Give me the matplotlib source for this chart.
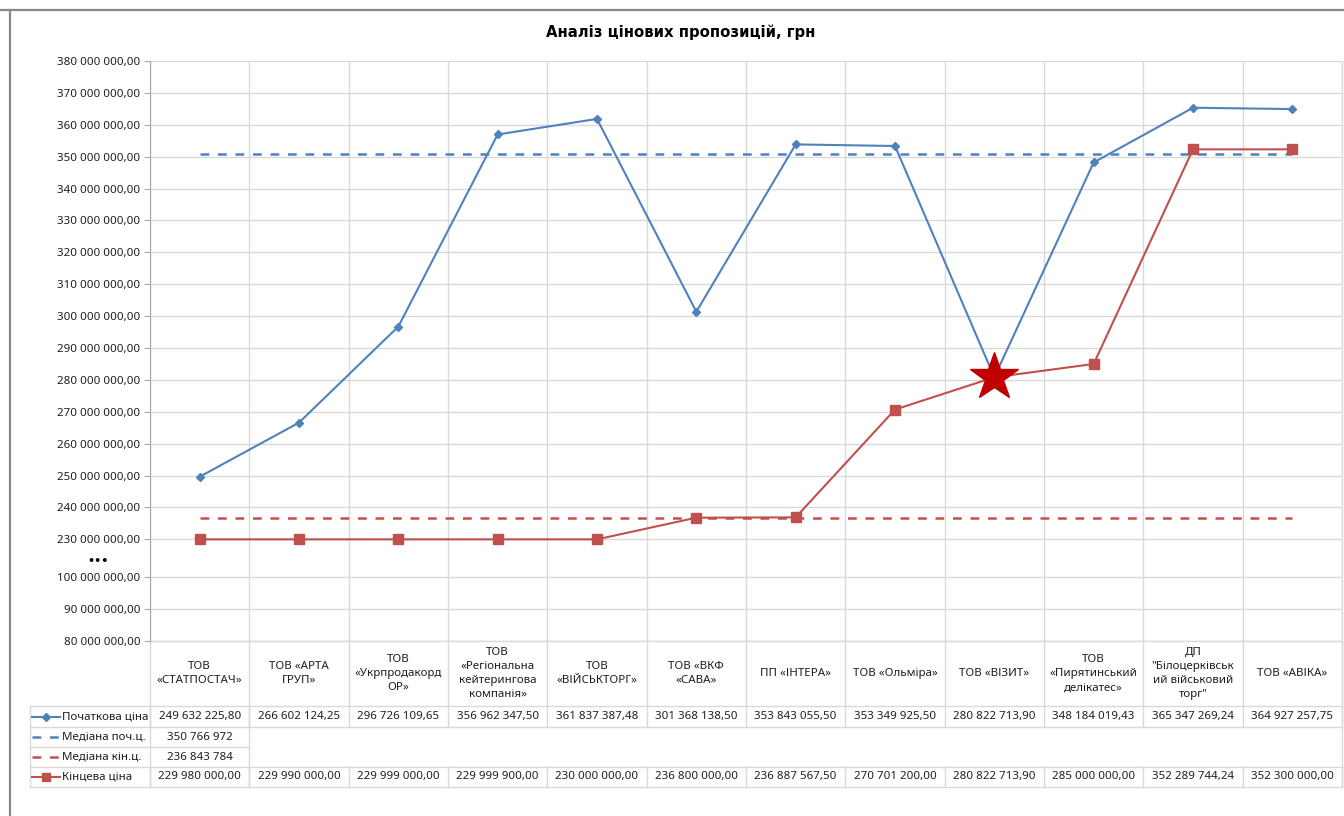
import numpy as np
import matplotlib
matplotlib.use("Agg")
import matplotlib.pyplot as plt
from matplotlib.ticker import FixedLocator, FuncFormatter, NullFormatter

plt.rcParams['font.family'] = ['Noto Sans', 'DejaVu Sans']

# --- дані ---
companies = [
    "ТОВ\n«СТАТПОСТАЧ»",
    "ТОВ «АРТА\nГРУП»",
    "ТОВ\n«Укрпродакорд\nОР»",
    "ТОВ\n«Регіональна\nкейтерингова\nкомпанія»",
    "ТОВ\n«ВІЙСЬКТОРГ»",
    "ТОВ «ВКФ\n«САВА»",
    "ПП «ІНТЕРА»",
    "ТОВ «Ольміра»",
    "ТОВ «ВІЗИТ»",
    "ТОВ\n«Пирятинський\nделікатес»",
    "ДП\n\"Білоцерківськ\nий військовий\nторг\"",
    "ТОВ «АВІКА»",
]
initial_price = [249632225.80, 266602124.25, 296726109.65, 356962347.50,
                 361837387.48, 301368138.50, 353843055.50, 353349925.50,
                 280822713.90, 348184019.43, 365347269.24, 364927257.75]
final_price = [229980000.00, 229990000.00, 229999000.00, 229999900.00,
               230000000.00, 236800000.00, 236887567.50, 270701200.00,
               280822713.90, 285000000.00, 352289744.24, 352300000.00]
median_initial = 350766972
median_final = 236843784
winner = 8  # ТОВ «ВІЗИТ»
y_ticks = [80_000_000, 90_000_000, 100_000_000] + \
    list(range(230_000_000, 380_000_001, 10_000_000))

BLUE = "#4F81BD"
RED = "#C0504D"
GRID = "#D9D9D9"
TXT = "#1f1f1f"
FS = 8.3

# розрив осі між 100 млн і 230 млн
GAP = 38 / 32


def fwd(v):
    v = np.asarray(v, float)
    lo = (v - 80e6) / 1e7
    hi = 2 + GAP + (v - 230e6) / 1e7
    mid = 2 + (v - 100e6) / 130e6 * GAP
    return np.where(v <= 100e6, lo, np.where(v >= 230e6, hi, mid))


def inv(u):
    u = np.asarray(u, float)
    lo = 80e6 + u * 1e7
    hi = 230e6 + (u - 2 - GAP) * 1e7
    mid = 100e6 + (u - 2) / GAP * 130e6
    return np.where(u <= 2, lo, np.where(u >= 2 + GAP, hi, mid))


def money(v):
    return f"{v:,.2f}".replace(",", " ").replace(".", ",")


def whole(v):
    return f"{v:,.0f}".replace(",", " ")


W, H = 1344, 816
plot_l, plot_r = 150, 1342
plot_t, plot_b = 61, 641
head_b = 706
rows = [706, 727, 747, 767, 787]
leg_l = 30
n = len(companies)
col_w = (plot_r - plot_l) / n

fig = plt.figure(figsize=(W / 100, H / 100), dpi=100)

# накладка в пікселях для рамки, заголовка і таблиці
ov = fig.add_axes([0, 0, 1, 1])
ov.set_xlim(0, W)
ov.set_ylim(H, 0)
ov.set_axis_off()

ax = fig.add_axes([plot_l / W, 1 - plot_b / H,
                   (plot_r - plot_l) / W, (plot_b - plot_t) / H])
ax.patch.set_alpha(0)
ax.set_yscale('function', functions=(fwd, inv))
ax.set_ylim(80e6, 380e6)
ax.set_xlim(-0.5, n - 0.5)
x = np.arange(n)

ax.plot(x, initial_price, color=BLUE, lw=1.5, marker='D', ms=4.5, zorder=3)
ax.plot([x[0], x[-1]], [median_initial] * 2, color=BLUE, lw=1.8,
        dashes=(3.5, 3.5), zorder=3)
ax.plot([x[0], x[-1]], [median_final] * 2, color=RED, lw=1.8,
        dashes=(3.5, 3.5), zorder=3)
ax.plot(x, final_price, color=RED, lw=1.5, marker='s', ms=6.5, zorder=4)
ax.plot(x[winner], final_price[winner], marker='*', ms=36, color="#C00000",
        mec="#C00000", zorder=5, clip_on=False)

ax.yaxis.set_major_locator(FixedLocator(y_ticks))
ax.yaxis.set_major_formatter(FuncFormatter(lambda v, p: money(v)))
ax.yaxis.set_minor_formatter(NullFormatter())
ax.yaxis.set_minor_locator(FixedLocator([]))
ax.xaxis.set_major_locator(FixedLocator(np.arange(n + 1) - 0.5))
ax.xaxis.set_major_formatter(NullFormatter())
ax.tick_params(axis='x', length=0)
ax.tick_params(axis='y', length=4, color="#A6A6A6", pad=3, labelsize=FS,
               labelcolor=TXT)
ax.grid(True, color=GRID, lw=1)
for s in ['top', 'right', 'bottom']:
    ax.spines[s].set_visible(False)
ax.spines['left'].set_color("#A6A6A6")

ov.text(98, 561, "•••", fontsize=8, fontweight='bold', ha='center',
        va='center', color="black", family=['DejaVu Sans'])

# рамка діаграми
ov.plot([10, 10], [10, H], color="#878787", lw=1.6)
ov.plot([0, W], [10, 10], color="#878787", lw=1.6)

ov.text(681, 32, "Аналіз цінових пропозицій, грн", fontsize=10.7,
        fontweight='bold', family=['DejaVu Sans'], ha='center', va='center',
        color="black")

# таблиця даних
tl = dict(color=GRID, lw=1)
ov.plot([plot_l, plot_r], [plot_b, plot_b], **tl)
for k in range(n + 1):
    xx = plot_l + k * col_w
    ov.plot([xx, xx], [plot_b, rows[1]], **tl)
    ov.plot([xx, xx], [rows[3], rows[4]], **tl)
ov.plot([plot_r, plot_r], [plot_t, rows[4]], **tl)
for xx in [leg_l, plot_l, plot_l + col_w]:
    ov.plot([xx, xx], [rows[0], rows[4]], **tl)
for yy in [rows[0], rows[1], rows[3], rows[4]]:
    ov.plot([leg_l, plot_r], [yy, yy], **tl)
ov.plot([leg_l, plot_l + col_w], [rows[2], rows[2]], **tl)

for k, name in enumerate(companies):
    cx = plot_l + (k + 0.5) * col_w
    ov.text(cx, (plot_b + head_b) / 2, name, fontsize=FS, ha='center',
            va='center', linespacing=1.4, color=TXT)
    ov.text(cx, (rows[0] + rows[1]) / 2, money(initial_price[k]), fontsize=FS,
            ha='center', va='center', color=TXT)
    ov.text(cx, (rows[3] + rows[4]) / 2, money(final_price[k]), fontsize=FS,
            ha='center', va='center', color=TXT)
cx0 = plot_l + 0.5 * col_w
ov.text(cx0, (rows[1] + rows[2]) / 2, whole(median_initial), fontsize=FS,
        ha='center', va='center', color=TXT)
ov.text(cx0, (rows[2] + rows[3]) / 2, whole(median_final), fontsize=FS,
        ha='center', va='center', color=TXT)

legend_rows = [
    ("Початкова ціна", BLUE, 'D', 4, None),
    ("Медіана поч.ц.", BLUE, None, 0, (3.5, 3.5)),
    ("Медіана кін.ц.", RED, None, 0, (3.5, 3.5)),
    ("Кінцева ціна", RED, 's', 6, None),
]
for r, (label, c, mk, ms, dash) in enumerate(legend_rows):
    cy = (rows[r] + rows[r + 1]) / 2
    if dash:
        ov.plot([32, 60], [cy, cy], color=c, lw=1.8, dashes=dash)
    else:
        ov.plot([32, 60], [cy, cy], color=c, lw=1.5)
        ov.plot([46], [cy], color=c, marker=mk, ms=ms, ls='none')
    ov.text(62.5, cy, label, fontsize=FS, ha='left', va='center', color=TXT)

fig.savefig("out.png", dpi=100)
